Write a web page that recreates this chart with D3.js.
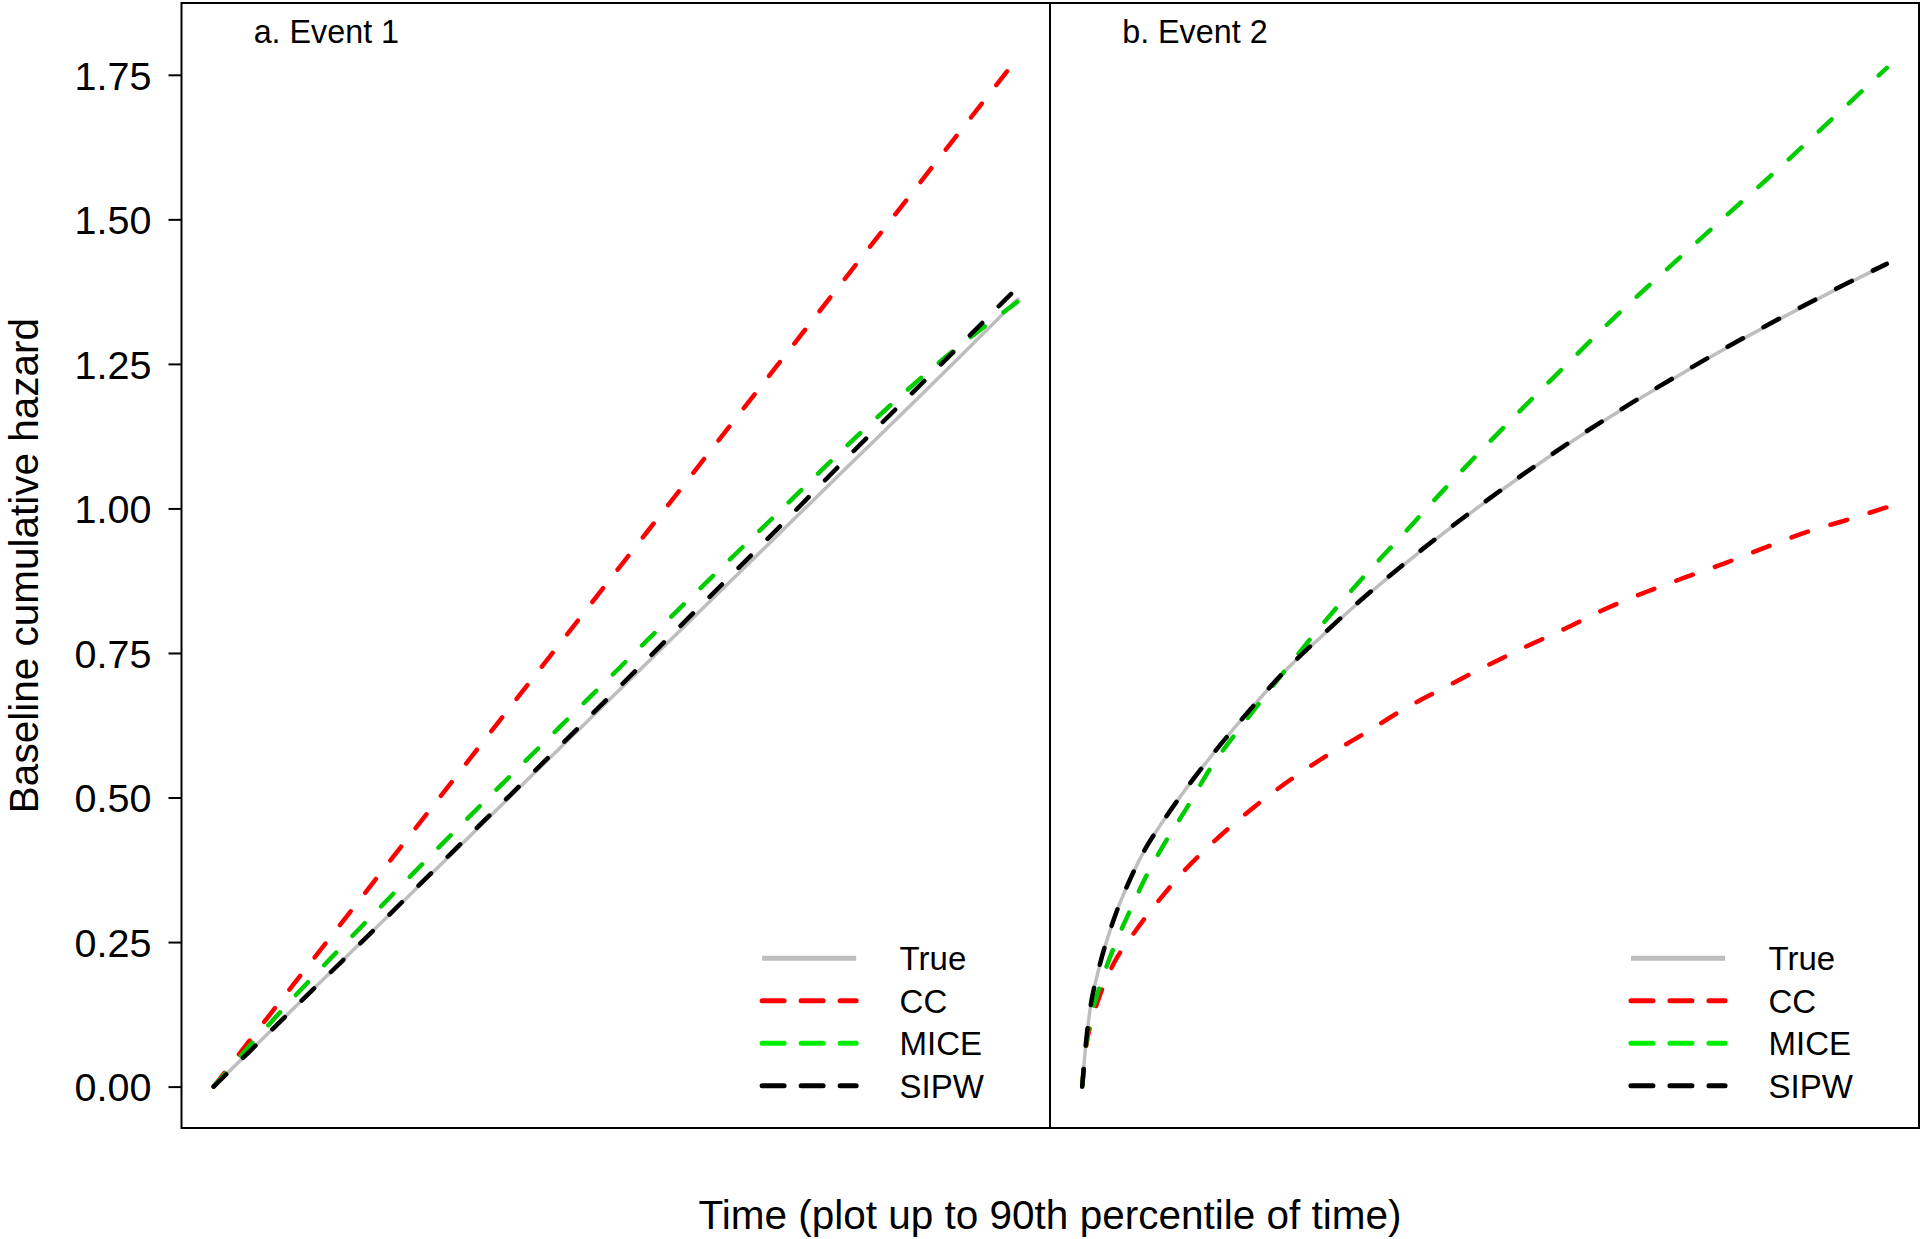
<!DOCTYPE html>
<html><head><meta charset="utf-8">
<script src="https://cdn.jsdelivr.net/npm/d3@7"></script>
<style>
body{margin:0;background:#fff}
svg{display:block}
text{font-family:"Liberation Sans", Arial, Helvetica, sans-serif; fill:#000}
</style>
</head><body>
<svg id="chart" width="1923" height="1239"></svg>
<script>
// ---------- data ----------
const panelTitles = ["a. Event 1", "b. Event 2"];
const seriesNames = ["True", "CC", "MICE", "SIPW"];
const yTicks = [0, 0.25, 0.5, 0.75, 1.0, 1.25, 1.5, 1.75];
const xLabel = "Time (plot up to 90th percentile of time)";
const yLabel = "Baseline cumulative hazard";

// Panel a (Event 1), time scaled 0..1 (up to 90th percentile)
const timeA = [0, 0.1, 0.2, 0.3, 0.4, 0.5, 0.6, 0.7, 0.8, 0.9, 1.0];
const trueA = [0, 0.136, 0.272, 0.408, 0.544, 0.680, 0.816, 0.952, 1.088, 1.224, 1.362];
const ccA   = [0, 0.178, 0.356, 0.534, 0.712, 0.890, 1.068, 1.246, 1.424, 1.602, 1.780];
const miceA = [0, 0.155, 0.300, 0.442, 0.580, 0.718, 0.855, 0.990, 1.125, 1.250, 1.358];
const sipwA = [0, 0.136, 0.272, 0.410, 0.547, 0.685, 0.824, 0.963, 1.105, 1.243, 1.383];

// Panel b (Event 2)
const timeB = [0, 0.005, 0.01, 0.02, 0.04, 0.06, 0.08, 0.1, 0.13, 0.16, 0.2, 0.25, 0.3, 0.35, 0.4,
               0.45, 0.5, 0.55, 0.6, 0.65, 0.7, 0.75, 0.8, 0.85, 0.9, 0.95, 1.0];
const trueB = [0, 0.080, 0.135, 0.200, 0.292, 0.360, 0.415, 0.458, 0.517, 0.571, 0.638, 0.716, 0.782, 0.845, 0.903,
               0.958, 1.010, 1.060, 1.108, 1.153, 1.196, 1.237, 1.277, 1.315, 1.352, 1.388, 1.422];
const ccB   = [0, 0.070, 0.105, 0.150, 0.215, 0.257, 0.295, 0.330, 0.378, 0.419, 0.468, 0.522, 0.569, 0.610, 0.653,
               0.690, 0.726, 0.760, 0.792, 0.826, 0.855, 0.881, 0.906, 0.933, 0.959, 0.980, 1.002];
const miceB = [0, 0.075, 0.115, 0.165, 0.243, 0.306, 0.365, 0.415, 0.482, 0.552, 0.627, 0.716, 0.802, 0.882, 0.957,
               1.033, 1.106, 1.177, 1.246, 1.315, 1.380, 1.443, 1.506, 1.568, 1.632, 1.697, 1.762];
const sipwB = [0, 0.080, 0.135, 0.200, 0.292, 0.360, 0.415, 0.458, 0.517, 0.571, 0.638, 0.716, 0.783, 0.846, 0.904,
               0.959, 1.011, 1.061, 1.109, 1.154, 1.197, 1.238, 1.278, 1.316, 1.353, 1.389, 1.423];

// ---------- styles ----------
const colors = {True: "#bebebe", CC: "#ff0000", MICE: "#00cd00", SIPW: "#000000"};
const legendColors = {True: "#bebebe", CC: "#ff0000", MICE: "#00ee00", SIPW: "#000000"};

// ---------- layout ----------
const svg = d3.select("#chart");
const plotTop = 3, plotBottom = 1128;
const y = d3.scaleLinear().domain([-0.0716, 1.8742]).range([plotBottom, plotTop]);

const panels = [
  {x0: 181.5, x1: 1050, title: panelTitles[0], time: timeA,
   series: {True: trueA, CC: ccA, MICE: miceA, SIPW: sipwA}},
  {x0: 1050, x1: 1919, title: panelTitles[1], time: timeB,
   series: {True: trueB, CC: ccB, MICE: miceB, SIPW: sipwB}}
];

panels.forEach((p, i) => {
  const x = d3.scaleLinear().domain([-0.04, 1.04]).range([p.x0, p.x1]);
  const g = svg.append("g");
  const line = d3.line().x((d, k) => x(p.time[k])).y(d => y(d)).curve(d3.curveMonotoneX);

  seriesNames.forEach(name => {
    const dashed = name !== "True";
    g.append("path")
      .datum(p.series[name])
      .attr("d", line)
      .attr("fill", "none")
      .attr("stroke", colors[name])
      .attr("stroke-width", dashed ? 4.5 : 3.5)
      .attr("stroke-linecap", "round")
      .attr("stroke-linejoin", "round")
      .attr("stroke-dasharray", dashed ? "17.5 23.5" : null);
  });

  // box
  g.append("rect")
    .attr("x", p.x0).attr("y", plotTop)
    .attr("width", p.x1 - p.x0).attr("height", plotBottom - plotTop)
    .attr("fill", "none").attr("stroke", "#000").attr("stroke-width", 2);

  // title
  g.append("text")
    .attr("x", x(0) + 40).attr("y", 43)
    .attr("font-size", 32.3)
    .text(p.title);

  // legend
  const lx0 = x(0.682), lx1 = x(0.799), tx = x(0.853);
  seriesNames.forEach((name, k) => {
    const ly = y(0.222) + k * 42.5;
    g.append("line")
      .attr("x1", lx0).attr("x2", lx1).attr("y1", ly).attr("y2", ly)
      .attr("stroke", legendColors[name])
      .attr("stroke-width", 5)
      .attr("stroke-linecap", name === "True" ? "butt" : "round")
      .attr("stroke-dasharray", name === "True" ? null : "22 17");
    g.append("text")
      .attr("x", tx).attr("y", ly).attr("dy", "0.36em")
      .attr("font-size", 33)
      .text(name);
  });

  if (i === 0) {
    const axis = d3.axisLeft(y).tickValues(yTicks).tickSize(13).tickPadding(17)
      .tickFormat(d3.format(".2f"));
    const ag = svg.append("g").attr("transform", `translate(${p.x0},0)`).call(axis);
    ag.select(".domain").remove();
    ag.selectAll(".tick line").attr("stroke", "#000").attr("stroke-width", 2);
    ag.selectAll(".tick text")
      .attr("font-size", 39.5)
      .attr("font-family", '"Liberation Sans", Arial, Helvetica, sans-serif')
      .attr("fill", "#000")
      .attr("dy", "0.36em");
  }
});

// axis titles
svg.append("text")
  .attr("x", 1050).attr("y", 1229)
  .attr("text-anchor", "middle")
  .attr("font-size", 40.5)
  .text(xLabel);

svg.append("text")
  .attr("transform", `translate(37.5,${(plotTop + plotBottom) / 2}) rotate(-90)`)
  .attr("text-anchor", "middle")
  .attr("font-size", 40.5)
  .text(yLabel);
</script>
</body></html>
